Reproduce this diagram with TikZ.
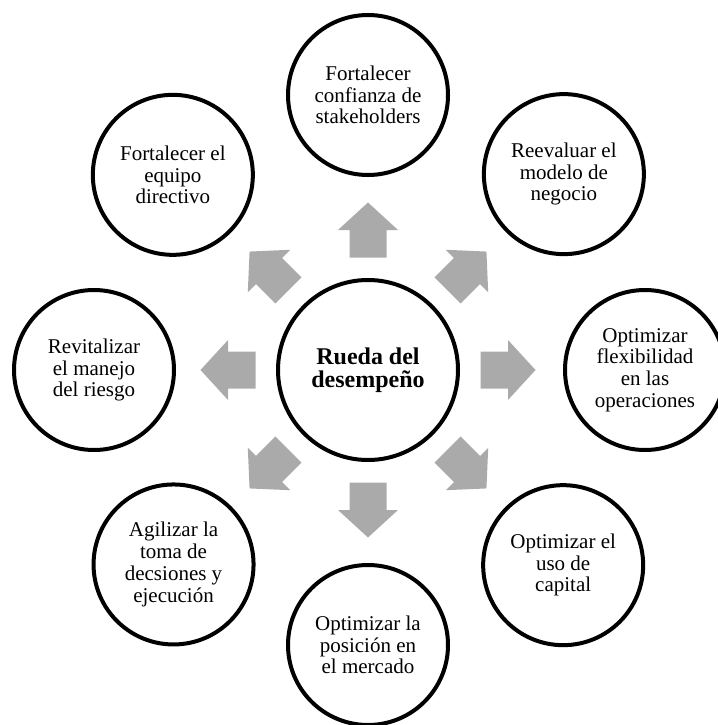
\documentclass[tikz,border=0pt]{standalone}
\usepackage{fontspec}
\setmainfont{Liberation Serif}
\usetikzlibrary{calc}
\definecolor{arrowgray}{HTML}{AAAAAA}
\begin{document}
\begin{tikzpicture}[x=1pt,y=1pt,
  ring/.style={circle, draw=black, line width=4pt, fill=white,
    minimum size=160pt, inner sep=0pt, align=center,
    font=\fontsize{21}{21.7}\selectfont},
  hubnode/.style={circle, draw=black, line width=4pt, fill=white,
    minimum size=180pt, inner sep=0pt, align=center,
    font=\fontsize{24}{23.5}\selectfont\bfseries},
  blockarrow/.pic={
    \fill[arrowgray] (-27.5,-18.5) -- (0,-18.5) -- (0,-30) -- (27.5,0)
      -- (0,30) -- (0,18.5) -- (-27.5,18.5) -- cycle;}
]
\useasboundingbox (0,0) rectangle (717,-725);

% central hub
\node[hubnode] (hub) at (368,-370) {Rueda del\\desempeño};

% outer ring of eight levers
\node[ring] (top)    at ($(hub)+(90:275)$)   {Fortalecer\\confianza de\\stakeholders};
\node[ring] (tr)     at ($(hub)+(45:277)$)   {Reevaluar el\\modelo de\\negocio};
\node[ring] (right)  at ($(hub)+(0:277)$)    {Optimizar\\flexibilidad\\en las\\operaciones};
\node[ring] (br)     at ($(hub)+(-45:276)$)  {Optimizar el\\uso de\\capital};
\node[ring] (bottom) at ($(hub)+(-90:275)$)  {Optimizar la\\posición en\\el mercado};
\node[ring] (bl)     at ($(hub)+(-135:275)$) {Agilizar la\\toma de\\decsiones y\\ejecución};
\node[ring] (left)   at ($(hub)+(180:274)$)  {Revitalizar\\el manejo\\del riesgo};
\node[ring] (tl)     at ($(hub)+(135:276)$)  {Fortalecer el\\equipo\\directivo};

% block arrows pointing outward
\foreach \a/\n in {90/top, 45/tr, 0/right, -45/br, -90/bottom, -135/bl, 180/left, 135/tl}
  \pic[rotate=\a] at ($(hub)!140pt!(\n)$) {blockarrow};
\end{tikzpicture}
\end{document}
